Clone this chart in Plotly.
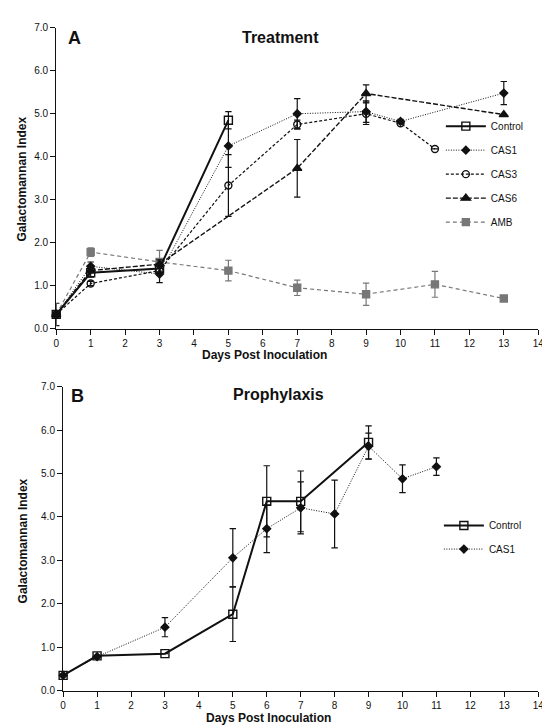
import plotly.graph_objects as go

W, H = 550, 728

# ---------------- Panel A: Treatment ----------------
ctrlA_days = [0, 1, 3, 5]
ctrlA_vals = [0.33, 1.30, 1.40, 4.85]
ctrlA_err = [0.26, 0.10, 0.10, 0.20]

cas1A_days = [0, 1, 3, 5, 7, 9, 10, 13]
cas1A_vals = [0.33, 1.45, 1.27, 4.25, 5.00, 5.05, 4.82, 5.48]
cas1A_err = [0.0, 0.10, 0.20, 0.50, 0.35, 0.25, 0.05, 0.27]

cas3A_days = [0, 1, 3, 5, 7, 9, 10, 11]
cas3A_vals = [0.33, 1.05, 1.35, 3.33, 4.75, 5.00, 4.78, 4.18]
cas3A_err = [0.0, 0.05, 0.10, 0.72, 0.10, 0.25, 0.0, 0.0]

cas6A_days = [0, 1, 3, 7, 9, 13]
cas6A_vals = [0.33, 1.35, 1.50, 3.73, 5.47, 4.98]
cas6A_err = [0.0, 0.0, 0.10, 0.67, 0.20, 0.0]

ambA_days = [0, 1, 3, 5, 7, 9, 11, 13]
ambA_vals = [0.33, 1.78, 1.55, 1.35, 0.95, 0.80, 1.03, 0.70]
ambA_err = [0.0, 0.10, 0.27, 0.24, 0.18, 0.26, 0.30, 0.0]

# ---------------- Panel B: Prophylaxis ----------------
ctrlB_days = [0, 1, 3, 5, 6, 7, 9]
ctrlB_vals = [0.35, 0.80, 0.85, 1.76, 4.36, 4.36, 5.72]
ctrlB_err = [0.0, 0.0, 0.0, 0.63, 0.82, 0.70, 0.38]

cas1B_days = [0, 1, 3, 5, 6, 7, 8, 9, 10, 11]
cas1B_vals = [0.35, 0.78, 1.46, 3.06, 3.73, 4.21, 4.07, 5.63, 4.88, 5.16]
cas1B_err = [0.0, 0.0, 0.22, 0.67, 0.55, 0.60, 0.78, 0.30, 0.32, 0.20]

x_ticks = list(range(0, 15))
y_ticks = [0, 1, 2, 3, 4, 5, 6, 7]

FONT = "Arial, Liberation Sans, Helvetica, sans-serif"
BLACK = "#111111"
GRAY = "#777777"


def err(vals, color):
    return dict(type="data", array=vals, visible=True, color=color,
                thickness=1.2, width=3.2)


fig = go.Figure()

seriesA = [
    ("AMB", ambA_days, ambA_vals, ambA_err, GRAY, 1.2, "4px,3px", "square", 7, GRAY),
    ("CAS6", cas6A_days, cas6A_vals, cas6A_err, BLACK, 1.4, "5px,2px", "triangle-up", 8, BLACK),
    ("CAS3", cas3A_days, cas3A_vals, cas3A_err, BLACK, 1.2, "3px,2px", "circle-open", 7, BLACK),
    ("CAS1", cas1A_days, cas1A_vals, cas1A_err, BLACK, 1.0, "1px,1.5px", "diamond", 6, BLACK),
    ("Control", ctrlA_days, ctrlA_vals, ctrlA_err, BLACK, 2.0, "solid", "square-open", 8, BLACK),
]
rankA = {"Control": 1, "CAS1": 2, "CAS3": 3, "CAS6": 4, "AMB": 5}

for name, xs, ys, es, col, lw, dash, sym, ms, mcol in seriesA:
    fig.add_trace(go.Scatter(
        x=xs, y=ys, name=name, mode="lines+markers",
        line=dict(color=col, width=lw, dash=dash),
        marker=dict(symbol=sym, size=ms, color=mcol,
                    line=dict(color=col, width=1.4)),
        error_y=err(es, col), cliponaxis=False,
        xaxis="x", yaxis="y", legend="legend",
        legendgroup=name, legendrank=rankA[name]))

seriesB = [
    ("CAS1", cas1B_days, cas1B_vals, cas1B_err, BLACK, 1.0, "1px,1.5px", "diamond", 6),
    ("Control", ctrlB_days, ctrlB_vals, ctrlB_err, BLACK, 2.0, "solid", "square-open", 8),
]
rankB = {"Control": 1, "CAS1": 2}
for name, xs, ys, es, col, lw, dash, sym, ms in seriesB:
    fig.add_trace(go.Scatter(
        x=xs, y=ys, name=name, mode="lines+markers",
        line=dict(color=col, width=lw, dash=dash),
        marker=dict(symbol=sym, size=ms, color=col, line=dict(color=col, width=1.4)),
        error_y=err(es, col), cliponaxis=False,
        xaxis="x2", yaxis="y2", legend="legend2",
        legendgroup=name + "B", legendrank=rankB[name]))

axis_common = dict(
    showline=True, linecolor=BLACK, linewidth=1.3, ticks="outside",
    ticklen=5, tickwidth=1.2, tickcolor=BLACK, showgrid=False, zeroline=False,
    tickfont=dict(family=FONT, size=10, color=BLACK), mirror=False,
)

yA = [1 - 320 / H, 1 - 15 / H]
yB = [1 - 687 / H, 1 - 379 / H]

fig.update_layout(
    width=W, height=H, margin=dict(l=0, r=0, t=0, b=0),
    paper_bgcolor="white", plot_bgcolor="white",
    font=dict(family=FONT, color=BLACK),
    xaxis=dict(domain=[46 / W, 536 / W], range=[0, 14], tickvals=x_ticks,
               anchor="y", **axis_common),
    yaxis=dict(domain=yA, range=[0, 7], tickvals=y_ticks, tickformat=".1f",
               anchor="x", **axis_common),
    xaxis2=dict(domain=[53 / W, 536 / W], range=[0, 14], tickvals=x_ticks,
                anchor="y2", **axis_common),
    yaxis2=dict(domain=yB, range=[0, 7], tickvals=y_ticks, tickformat=".1f",
                anchor="x2", **axis_common),
    legend=dict(x=437 / W, y=1 - 100 / H, xanchor="left", yanchor="top",
                traceorder="grouped", tracegroupgap=5, itemwidth=40,
                font=dict(family=FONT, size=10, color=BLACK),
                bgcolor="rgba(0,0,0,0)"),
    legend2=dict(x=435 / W, y=1 - 505 / H, xanchor="left", yanchor="top",
                 traceorder="grouped", tracegroupgap=4.5, itemwidth=40,
                 font=dict(family=FONT, size=10, color=BLACK),
                 bgcolor="rgba(0,0,0,0)"),
    showlegend=True,
)

ann = [
    dict(text="<b>A</b>", x=65, y=25, size=18),
    dict(text="<b>Treatment</b>", x=274, y=25, size=16),
    dict(text="<b>B</b>", x=68, y=388, size=18),
    dict(text="<b>Prophylaxis</b>", x=272, y=387, size=16),
    dict(text="<b>Days Post Inoculation</b>", x=258, y=347, size=12),
    dict(text="<b>Days Post Inoculation</b>", x=262, y=715, size=12),
]
for a in ann:
    fig.add_annotation(text=a["text"], x=a["x"] / W, y=1 - a["y"] / H,
                       xref="paper", yref="paper", showarrow=False,
                       xanchor="center", yanchor="middle",
                       font=dict(family=FONT, size=a["size"], color=BLACK))
for xc, yc in [(11, 168), (12, 535)]:
    fig.add_annotation(text="<b>Galactomannan Index</b>", x=xc / W, y=1 - yc / H,
                       xref="paper", yref="paper", showarrow=False, textangle=-90,
                       xanchor="center", yanchor="middle",
                       font=dict(family=FONT, size=12, color=BLACK))

fig.write_html("out.html")
